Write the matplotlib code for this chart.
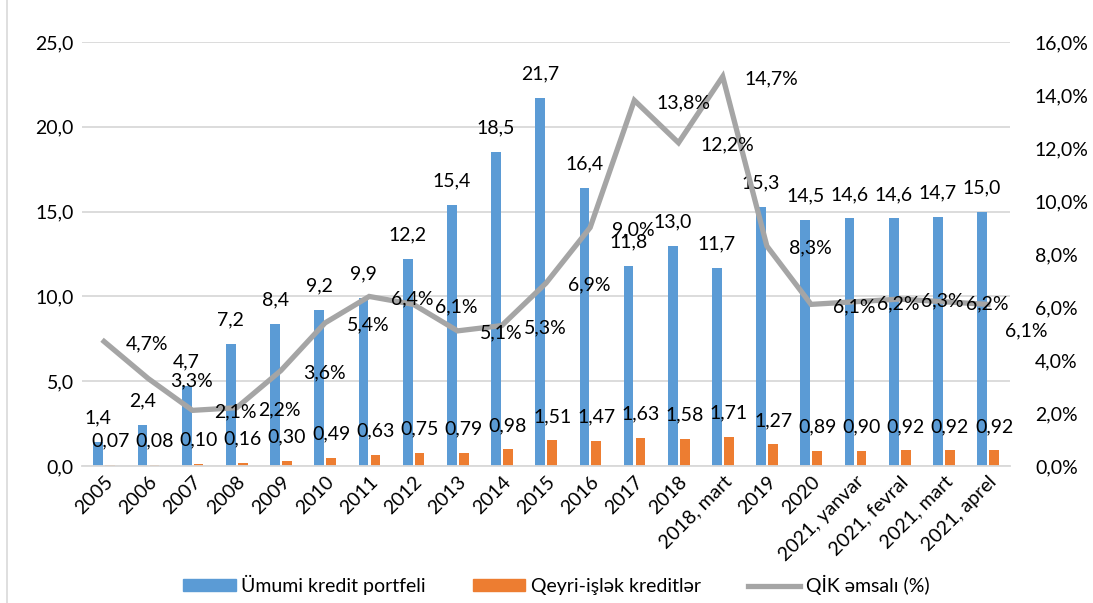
import numpy as np
import matplotlib
matplotlib.use("AGG")
import matplotlib.pyplot as plt
from matplotlib.lines import Line2D

plt.rcParams['font.family'] = ['Lato', 'DejaVu Sans']

categories = ['2005', '2006', '2007', '2008', '2009', '2010', '2011', '2012', '2013',
              '2014', '2015', '2016', '2017', '2018', '2018, mart', '2019', '2020',
              '2021, yanvar', '2021, fevral', '2021, mart', '2021, aprel']
portfel = [1.4, 2.4, 4.7, 7.2, 8.4, 9.2, 9.9, 12.2, 15.4, 18.5, 21.7, 16.4, 11.8,
           13.0, 11.7, 15.3, 14.5, 14.6, 14.6, 14.7, 15.0]
qik_kredit = [0.07, 0.08, 0.10, 0.16, 0.30, 0.49, 0.63, 0.75, 0.79, 0.98, 1.51, 1.47,
              1.63, 1.58, 1.71, 1.27, 0.89, 0.90, 0.92, 0.92, 0.92]
qik_pct = [4.7, 3.3, 2.1, 2.2, 3.6, 5.4, 6.4, 6.1, 5.1, 5.3, 6.9, 9.0, 13.8, 12.2,
           14.7, 8.3, 6.1, 6.2, 6.3, 6.2, 6.1]

c_blue = '#5B9BD5'
c_orange = '#ED7D31'
c_gray = '#A5A5A5'
fs = 14

def comma(v, nd):
    return f"{v:.{nd}f}".replace('.', ',')

fig = plt.figure(figsize=(10.93, 6.03), dpi=100)
ax = fig.add_axes([0.075, 0.2272, 0.849, 0.703])
ax2 = ax.twinx()

x = np.arange(len(categories))
w = 0.22
ax.bar(x - 0.13, portfel, w, color=c_blue, zorder=2)
ax.bar(x + 0.14, qik_kredit, w, color=c_orange, zorder=2)

for xi, v in zip(x, portfel):
    ax.annotate(comma(v, 1), (xi - 0.13, v), xytext=(0, 24), textcoords='offset pixels',
                ha='center', va='center', fontsize=fs, zorder=5)
for xi, v in zip(x, qik_kredit):
    ax.annotate(comma(v, 2), (xi + 0.14, v), xytext=(0, 24), textcoords='offset pixels',
                ha='center', va='center', fontsize=fs, zorder=5)

ax.set_ylim(0, 25)
ax.set_yticks(np.arange(0, 26, 5))
ax.set_yticklabels([comma(t, 1) for t in np.arange(0, 26, 5)])
ax.set_xlim(-0.5, len(categories) - 0.5)
ax.set_xticks(x)
ax.set_xticklabels(categories, rotation=45, ha='right', va='top', rotation_mode='anchor')
ax.grid(axis='y', color='#D9D9D9', linewidth=1.3, zorder=0)
ax.set_axisbelow(True)
for s in ['top', 'right', 'left']:
    ax.spines[s].set_visible(False)
ax.spines['bottom'].set_color('#D9D9D9')
ax.spines['bottom'].set_linewidth(1.3)
ax.tick_params(axis='y', length=0, labelsize=fs, pad=6)
ax.tick_params(axis='x', length=0, labelsize=fs, pad=5)

ax2.plot(x, qik_pct, color=c_gray, linewidth=3.8, solid_joinstyle='miter', zorder=3)
ax2.set_ylim(0, 16)
ax2.set_yticks(np.arange(0, 17, 2))
ax2.set_yticklabels([comma(t, 1) + '%' for t in np.arange(0, 17, 2)])
ax2.tick_params(axis='y', length=0, labelsize=fs, pad=18)
for s in ax2.spines.values():
    s.set_visible(False)
for i, (xi, v) in enumerate(zip(x, qik_pct)):
    off = (17, -26) if i == len(x) - 1 else (22, -2)
    ax2.annotate(comma(v, 1) + '%', (xi, v), xytext=off, textcoords='offset pixels',
                 ha='left', va='center', fontsize=fs, zorder=6)

handles = [plt.Rectangle((0, 0), 1, 1, color=c_blue),
           plt.Rectangle((0, 0), 1, 1, color=c_orange),
           Line2D([0], [0], color=c_gray, linewidth=3.8)]
fig.legend(handles, ['Ümumi kredit portfeli', 'Qeyri-işlək kreditlər', 'QİK əmsalı (%)'],
           loc='center', bbox_to_anchor=(0.509, 0.03), ncol=3, frameon=False,
           fontsize=fs, handlelength=2.7, handleheight=0.55, handletextpad=0.3,
           columnspacing=2.4)

fig.add_artist(Line2D([0.0065, 0.0065], [0, 1], color='#D9D9D9', linewidth=1.2,
                      transform=fig.transFigure))

plt.savefig("out.png", format="png", dpi=100)
